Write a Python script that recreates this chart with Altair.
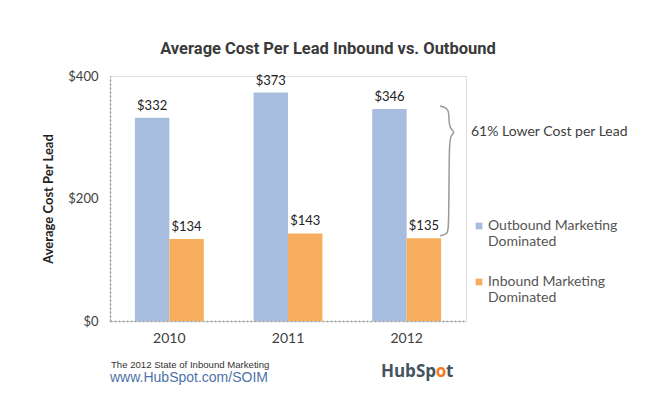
import altair as alt
import pandas as pd

years = ["2010", "2011", "2012"]
outbound = [332, 373, 346]
inbound = [134, 143, 135]
series = ["Outbound Marketing Dominated", "Inbound Marketing Dominated"]
series_colors = ["#a7bde0", "#f6ae5e"]
y_ticks = [0, 200, 400]
title_text = "Average Cost Per Lead Inbound vs. Outbound"
y_title = "Average Cost Per Lead"
annotation = "61% Lower Cost per Lead"
source_line1 = "The 2012 State of Inbound Marketing"
source_line2 = "www.HubSpot.com/SOIM"

W, H = 356, 245
TXT = "#404040"

rows = []
for i, yr in enumerate(years):
    rows.append({"year": yr, "series": series[0], "value": outbound[i], "label": f"${outbound[i]}"})
    rows.append({"year": yr, "series": series[1], "value": inbound[i], "label": f"${inbound[i]}"})
df = pd.DataFrame(rows)

x_scale = alt.Scale(paddingInner=0.42, paddingOuter=0.21)
x_enc = alt.X("year:N", sort=years, scale=x_scale,
              axis=alt.Axis(title=None, labelAngle=0, ticks=False, labelPadding=10,
                            labelFont="Lato", labelFontSize=14, labelColor=TXT,
                            domainColor="#9a9a9a", domainDash=[2, 2], domainWidth=1.5))
xo_enc = alt.XOffset("series:N", sort=series)
y_enc = alt.Y("value:Q", scale=alt.Scale(domain=[0, 400], nice=False),
              axis=alt.Axis(title=y_title, values=y_ticks, format="$.0f", grid=False, ticks=False,
                            labelPadding=12, labelFont="Lato", labelFontSize=13, labelColor=TXT,
                            titleFont="Lato", titleFontSize=13, titleFontWeight="bold",
                            titleColor="#222222", titlePadding=12,
                            domainColor="#9a9a9a", domainDash=[2, 2], domainWidth=1.5))

bars = alt.Chart(df).mark_bar().encode(
    x=x_enc, xOffset=xo_enc, y=y_enc,
    color=alt.Color("series:N", sort=series,
                    scale=alt.Scale(domain=series, range=series_colors),
                    legend=alt.Legend(title=None, orient="none", legendX=362, legendY=143,
                                      symbolType="square", symbolSize=45, symbolStrokeWidth=0,
                                      labelFont="Lato", labelFontSize=14, labelColor="#555555",
                                      labelOffset=2, rowPadding=26,
                                      labelLimit=300,
                                      labelExpr="datum.label == 'Outbound Marketing Dominated' ? ['Outbound Marketing', 'Dominated'] : ['Inbound Marketing', 'Dominated']")),
)

labels = alt.Chart(df).mark_text(baseline="middle", dy=-12, font="Lato", fontSize=13, color="#222222").encode(
    x=alt.X("year:N", sort=years, scale=x_scale, axis=None),
    xOffset=alt.XOffset("series:N", sort=series),
    y="value:Q", text="label:N",
)

top = outbound[2] + 5
bottom = inbound[2] + 4
tip = 308
brace_df = pd.DataFrame({
    "i": list(range(11)),
    "bx": [330, 337, 339, 339, 341, 345, 341, 339, 339, 337, 330],
    "by": [top, top - 3, top - 10, tip + 13, tip + 5, tip, tip - 5, tip - 13, bottom + 10, bottom + 3, bottom],
})
brace = alt.Chart(brace_df).mark_line(color="#9a9a9a", strokeWidth=1.5, interpolate="basis").encode(
    x=alt.X("bx:Q", scale=alt.Scale(domain=[0, W]), axis=None),
    y=alt.Y("by:Q"),
    order="i:Q",
)

ann = alt.Chart(pd.DataFrame({"v": [tip], "t": [annotation]})).mark_text(
    align="left", baseline="middle", font="Lato", fontSize=14, color=TXT
).encode(x=alt.value(361), y="v:Q", text="t:N")

one = pd.DataFrame({"k": [0]})
foot1 = alt.Chart(one).mark_text(align="left", baseline="middle", font="Liberation Sans", fontSize=9.6,
                                 color="#333333", text=source_line1).encode(x=alt.value(1), y=alt.value(289))
foot2 = alt.Chart(one).mark_text(align="left", baseline="middle", font="Liberation Sans", fontSize=14,
                                 color="#4f73a8", text=source_line2).encode(x=alt.value(0), y=alt.value(302))
hub1 = alt.Chart(one).mark_text(align="right", baseline="middle", font="Open Sans", fontSize=17,
                                fontWeight="bold", color="#45535e", text="HubSp").encode(x=alt.value(326), y=alt.value(296))
hub2 = alt.Chart(one).mark_text(align="center", baseline="middle", font="Open Sans", fontSize=17,
                                fontWeight="bold", color="#f57722", text="o").encode(x=alt.value(331), y=alt.value(296))
hub3 = alt.Chart(one).mark_text(align="left", baseline="middle", font="Open Sans", fontSize=17,
                                fontWeight="bold", color="#45535e", text="t").encode(x=alt.value(336), y=alt.value(296))

chart = alt.layer(bars, labels, brace, ann, foot1, foot2, hub1, hub2, hub3).resolve_scale(
    x="independent"
).properties(
    width=W, height=H,
    title=alt.TitleParams(text=title_text, anchor="middle", frame="group", dx=40, offset=13,
                          font="'Liberation Sans Narrow', Roboto", fontSize=16.5, fontWeight="bold",
                          color="#3a3a3a"),
    padding={"left": 102, "top": 68, "right": 173, "bottom": 69},
    autosize=alt.AutoSizeParams(type="none"),
).configure_view(stroke=None).configure(background="white")

chart.save("out.html", embed_options={"renderer": "svg", "actions": False})
